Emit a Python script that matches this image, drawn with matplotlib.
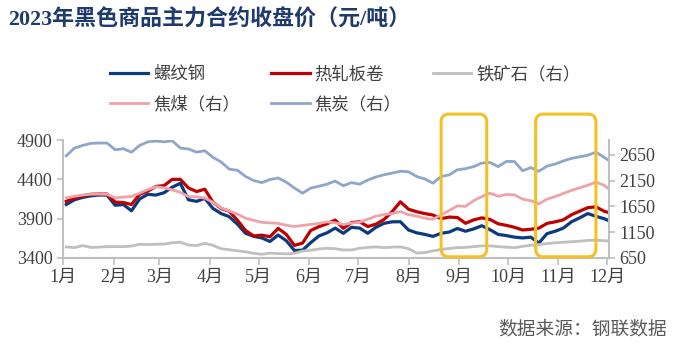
import matplotlib.pyplot as plt
import matplotlib.dates as mdates
import matplotlib.transforms as mtransforms
import pandas as pd
from matplotlib.patches import FancyBboxPatch
from matplotlib.ticker import FuncFormatter

plt.rcParams['font.family'] = ['Liberation Serif', 'Noto Sans CJK SC']

# 2023年主力合约收盘价（每5天取一个点）
days = ['01-03', '01-08', '01-13', '01-18', '01-23', '01-28', '02-02', '02-07',
        '02-12', '02-17', '02-22', '02-27', '03-04', '03-09', '03-14', '03-19',
        '03-24', '03-29', '04-03', '04-08', '04-13', '04-18', '04-23', '04-28',
        '05-03', '05-08', '05-13', '05-18', '05-23', '05-28', '06-02', '06-07',
        '06-12', '06-17', '06-22', '06-27', '07-02', '07-07', '07-12', '07-17',
        '07-22', '07-27', '08-01', '08-06', '08-11', '08-16', '08-21', '08-26',
        '08-31', '09-05', '09-10', '09-15', '09-20', '09-25', '09-30', '10-05',
        '10-10', '10-15', '10-20', '10-25', '10-30', '11-04', '11-09', '11-14',
        '11-19', '11-24', '11-29', '12-01']
dates = pd.to_datetime(['2023-' + d for d in days])

rebar = [4080, 4140, 4170, 4190, 4201, 4201, 4070, 4080, 4000, 4150, 4210, 4200,
         4230, 4300, 4350, 4140, 4120, 4159, 4030, 3965, 3925, 3830, 3714, 3675,
         3655, 3610, 3692, 3620, 3495, 3500, 3595, 3680, 3720, 3780, 3714, 3790,
         3780, 3714, 3790, 3841, 3860, 3861, 3756, 3720, 3700, 3675, 3714, 3730,
         3775, 3740, 3770, 3810, 3760, 3700, 3685, 3665, 3655, 3665, 3590, 3710,
         3740, 3780, 3860, 3910, 3965, 3930, 3900, 3883]
hrc = [4120, 4160, 4190, 4210, 4213, 4213, 4110, 4105, 4080, 4210, 4250, 4310,
       4320, 4400, 4400, 4290, 4245, 4275, 4110, 4030, 3995, 3880, 3750, 3680,
       3690, 3670, 3777, 3700, 3560, 3590, 3750, 3798, 3835, 3883, 3777, 3850,
       3861, 3800, 3830, 3890, 3990, 4115, 4020, 3988, 3965, 3946, 3900, 3920,
       3915, 3841, 3885, 3910, 3890, 3835, 3815, 3790, 3756, 3765, 3780, 3840,
       3860, 3885, 3950, 3995, 4040, 4050, 3995, 3983]
ore = [865, 850, 890, 855, 860, 870, 870, 870, 880, 916, 910, 916,
       920, 945, 955, 900, 890, 935, 895, 830, 810, 790, 770, 740,
       722, 745, 735, 730, 741, 785, 800, 825, 838, 830, 805, 805,
       838, 855, 865, 850, 860, 865, 830, 745, 755, 786, 815, 835,
       850, 855, 870, 885, 885, 870, 860, 850, 875, 895, 910, 930,
       945, 955, 965, 975, 990, 995, 985, 980]
coal = [1815, 1845, 1870, 1885, 1887, 1885, 1815, 1830, 1840, 1906, 1975, 2030,
        2010, 1970, 1920, 1840, 1835, 1810, 1730, 1620, 1560, 1500, 1420, 1380,
        1340, 1330, 1320, 1285, 1260, 1280, 1300, 1320, 1350, 1330, 1300, 1325,
        1343, 1400, 1460, 1490, 1510, 1549, 1490, 1460, 1420, 1400, 1485, 1570,
        1660, 1650, 1760, 1840, 1906, 1845, 1880, 1873, 1790, 1760, 1700, 1790,
        1840, 1900, 1960, 2010, 2060, 2120, 2060, 2010]
coke = [2630, 2780, 2830, 2870, 2877, 2877, 2747, 2767, 2700, 2830, 2900, 2915,
        2900, 2920, 2780, 2760, 2700, 2728, 2600, 2510, 2370, 2350, 2230, 2150,
        2110, 2170, 2200, 2120, 2004, 1906, 2004, 2040, 2080, 2140, 2050, 2110,
        2080, 2160, 2220, 2262, 2295, 2330, 2320, 2229, 2180, 2100, 2229, 2260,
        2359, 2380, 2420, 2490, 2500, 2420, 2520, 2520, 2340, 2400, 2330, 2430,
        2470, 2530, 2580, 2610, 2640, 2700, 2600, 2560]

left_ticks = [3400, 3900, 4400, 4900]
right_ticks = [650, 1150, 1650, 2150, 2650]
highlight_spans = [('2023-08-21', '2023-09-18'), ('2023-10-18', '2023-11-24')]

grey = '#BFBFBF'
txt = '#404040'

fig = plt.figure(figsize=(6.74, 3.5), dpi=100)
ax = fig.add_axes([0.0935, 0.2629, 0.810, 0.337])
ax2 = ax.twinx()

l1, = ax.plot(dates, rebar, color='#0B3B7F', lw=2.3, label='螺纹钢')
l2, = ax.plot(dates, hrc, color='#C00000', lw=2.3, label='热轧板卷')
l3, = ax2.plot(dates, ore, color='#BFBFBF', lw=2.0, label='铁矿石（右）')
l4, = ax2.plot(dates, coal, color='#F0A2AB', lw=2.0, label='焦煤（右）')
l5, = ax2.plot(dates, coke, color='#8EA6C9', lw=2.0, label='焦炭（右）')

ax.set_ylim(3400, 4900)
ax.set_yticks(left_ticks)
ax2.set_ylim(650, 2935)
ax2.set_yticks(right_ticks)
ax.set_xlim(pd.Timestamp('2023-01-01'), pd.Timestamp('2023-12-02'))
ax.xaxis.set_major_locator(mdates.MonthLocator())
ax.xaxis.set_major_formatter(FuncFormatter(lambda v, p: f'{mdates.num2date(v).month}月'))

for a in (ax, ax2):
    for s in a.spines.values():
        s.set_visible(False)
    a.tick_params(colors=grey, width=1.2, length=4, labelsize=13, labelcolor=txt)
ax.spines['left'].set_visible(True)
ax.spines['bottom'].set_visible(True)
ax2.spines['right'].set_visible(True)
for s in (ax.spines['left'], ax.spines['bottom'], ax2.spines['right']):
    s.set_color(grey)
    s.set_linewidth(1.5)
ax.tick_params(axis='x', length=5, pad=3)

# 黄色圆角框
fig.canvas.draw()
trans = mtransforms.blended_transform_factory(ax.transData, ax.transAxes)
for start, end in highlight_spans:
    x0 = mdates.date2num(pd.Timestamp(start))
    x1 = mdates.date2num(pd.Timestamp(end))
    p0 = trans.transform((x0, 0.01))
    p1 = trans.transform((x1, 1.22))
    box = FancyBboxPatch(p0, p1[0] - p0[0], p1[1] - p0[1],
                         boxstyle='round,pad=0,rounding_size=8',
                         fill=False, edgecolor='#F5C026', linewidth=2.2,
                         transform=mtransforms.IdentityTransform(), zorder=10)
    fig.add_artist(box)

fig.legend([l1, l4, l2, l5, l3], [l.get_label() for l in (l1, l4, l2, l5, l3)],
           ncol=3, loc='upper left', bbox_to_anchor=(0.15, 0.835), frameon=False,
           fontsize=12.5, labelcolor=txt, handlelength=2.2, handletextpad=0.3,
           columnspacing=1.8, labelspacing=0.75, borderpad=0)

fig.text(0.012, 1 - 20 / 350, '2023年黑色商品主力合约收盘价（元/吨）', fontsize=15.8,
         fontweight='bold', color='#1F3A6E', va='center', ha='left')
fig.text(0.99, 1 - 330 / 350, '数据来源：钢联数据', fontsize=13.5, color='#595959',
         va='center', ha='right')

fig.savefig('out.png', dpi=100)
